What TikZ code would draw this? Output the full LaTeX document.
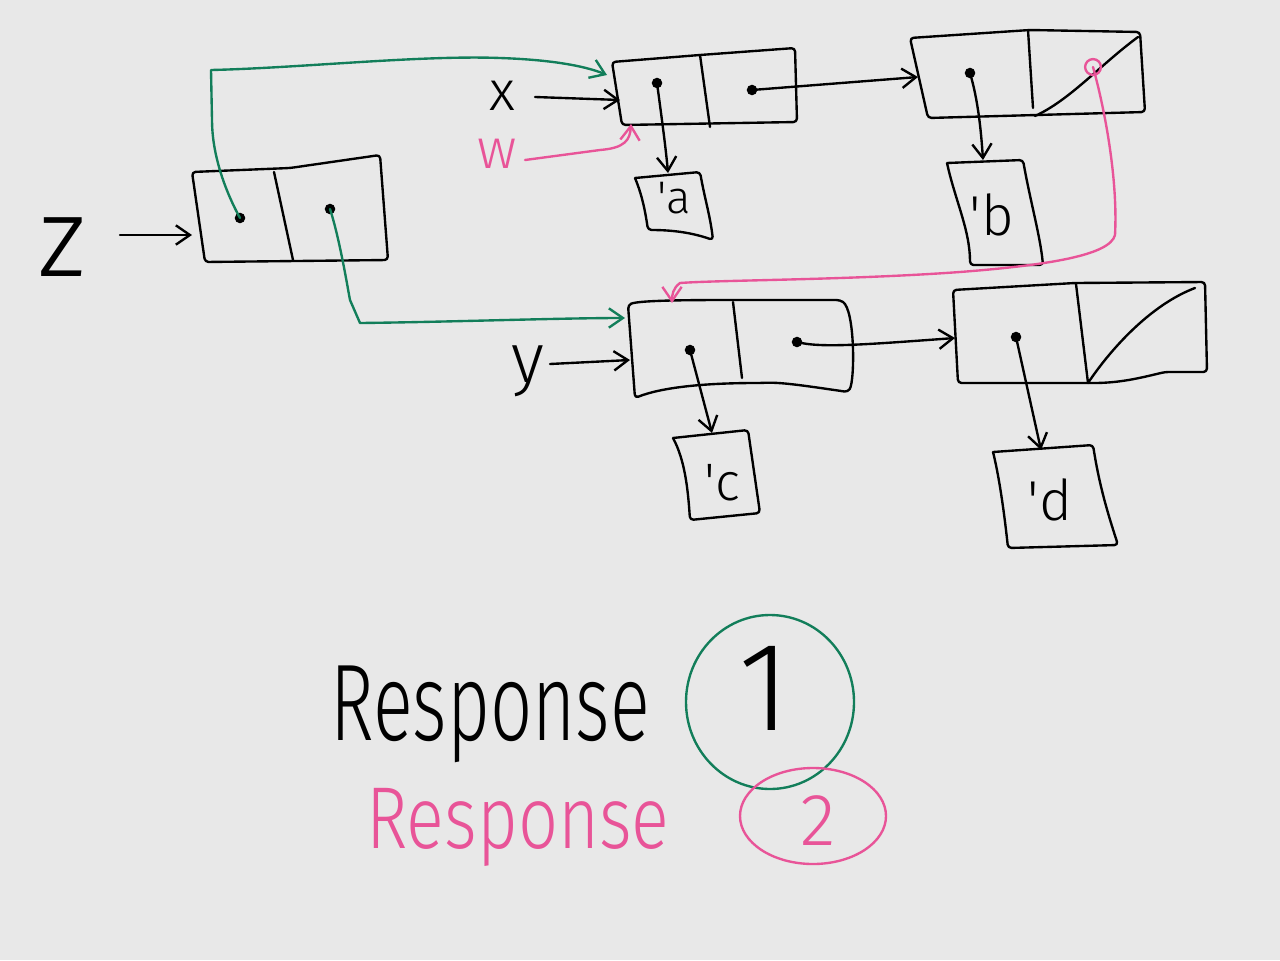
\documentclass[tikz,border=0pt]{standalone}
\usepackage{fontspec}
\IfFontExistsTF{Fira Sans Light}{\setmainfont{Fira Sans Light}}{\setmainfont{Fira Sans}}
\usetikzlibrary{arrows.meta}
\definecolor{bgc}{RGB}{232,232,232}
\definecolor{grn}{RGB}{18,126,90}
\definecolor{pnk}{RGB}{232,84,152}
\tikzset{
  ink/.style={line width=1.35pt, line cap=round, line join=round},
  boxline/.style={ink, draw=black, rounded corners=2pt},
  arr/.style={ink, -{Straight Barb[length=8pt,width=11pt]}},
  garr/.style={arr, draw=grn},
  parr/.style={arr, draw=pnk},
  lbl/.style={inner sep=0pt, anchor=base},
}
\newcommand{\fs}[1]{\fontsize{#1}{#1}\selectfont}
\begin{document}
\begin{tikzpicture}[x=0.02cm, y=-0.02cm]
\useasboundingbox[fill=bgc] (0,0) rectangle (1280,960);

% ---------- labels ----------
\node[lbl, font=\fs{64}] (zlab) at (62,276) {z};
\node[lbl, font=\fs{32}] (xlab) at (502,110) {x};
\node[lbl, font=\fs{32}, text=pnk] (wlab) at (497,168) {w};
\node[lbl, font=\fs{40}] (ylab) at (528,382) {y};

% ---------- cons cells ----------
% Z pair
\draw[boxline] (192,172) -- (290,168) -- (380,155) -- (388,260) -- (205,262) -- cycle;
\draw[boxline] (274,172) -- (293,260);
\coordinate (zcar) at (240,218);
\coordinate (zcdr) at (330,209);
\coordinate (zin) at (192,235);
\fill (zcar) circle[radius=3pt];
\fill (zcdr) circle[radius=3pt];

% X pair
\draw[boxline] (612,62) -- (700,55) -- (795,48) -- (797,122) -- (622,125) -- cycle;
\draw[boxline] (700,55) -- (710,127);
\coordinate (xcar) at (657,83);
\coordinate (xcdr) at (752,90);
\coordinate (xin) at (620,100);
\coordinate (xtop) at (607,75);
\coordinate (xbot) at (631,124);
\fill (xcar) circle[radius=3pt];
\fill (xcdr) circle[radius=3pt];

% B pair (cdr nil)
\draw[boxline] (910,38) -- (1030,30) -- (1140,32) -- (1145,112) -- (928,118) -- cycle;
\draw[boxline] (1028,30) -- (1033,108);
\draw[boxline] (1035,116) .. controls (1070,100) and (1100,65) .. (1138,37);
\coordinate (bcar) at (970,73);
\coordinate (bin) at (918,77);
\coordinate (bcdr) at (1093,67);
\fill (bcar) circle[radius=3pt];
\draw[ink, draw=pnk] (bcdr) circle[radius=4.5pt];

% Y pair
\draw[boxline] (628,305) .. controls (640,300) and (700,300) .. (740,300) -- (840,300) .. controls (855,310) and (855,380) .. (848,392) .. controls (800,385) and (780,382) .. (760,383) .. controls (700,383) and (660,388) .. (635,398) -- cycle;
\draw[boxline] (733,302) -- (742,378);
\coordinate (ycar) at (690,350);
\coordinate (ycdr) at (797,342);
\coordinate (yin) at (630,360);
\coordinate (ytop) at (625,318);
\coordinate (ytopp) at (672,303);
\fill (ycar) circle[radius=3pt];
\fill (ycdr) circle[radius=3pt];

% D pair (cdr nil)
\draw[boxline] (953,290) -- (1075,283) -- (1205,282) -- (1207,372) -- (1165,372) .. controls (1140,378) and (1120,383) .. (1090,383) -- (958,383) -- cycle;
\draw[boxline] (1076,284) -- (1088,383);
\draw[boxline] (1088,383) .. controls (1110,350) and (1150,305) .. (1195,288);
\coordinate (dcar) at (1016,337);
\coordinate (din) at (955,338);
\fill (dcar) circle[radius=3pt];

% ---------- atoms ----------
\draw[boxline] (635,178) -- (700,172) .. controls (705,200) and (710,215) .. (713,240) .. controls (690,232) and (670,230) .. (648,230) .. controls (645,210) and (642,195) .. (635,178);
\node[lbl, font=\fs{26}] (alab) at (674,213) {\textquotesingle a};
\coordinate (ain) at (668,173);

\draw[boxline] (947,163) -- (1023,160) .. controls (1030,200) and (1040,235) .. (1043,265) -- (970,265) .. controls (970,230) and (955,200) .. (947,163);
\node[lbl, font=\fs{32}] (blab) at (992,235) {\textquotesingle b};
\coordinate (bin2) at (983,160);

\draw[boxline] (673,438) -- (748,430) -- (760,513) -- (690,520) .. controls (688,490) and (685,460) .. (673,438);
\node[lbl, font=\fs{30}] (clab) at (722,500) {\textquotesingle c};
\coordinate (cin) at (712,433);

\draw[boxline] (993,452) -- (1093,445) .. controls (1100,490) and (1110,520) .. (1118,545) -- (1008,548) .. controls (1005,520) and (1000,480) .. (993,452);
\node[lbl, font=\fs{32}] (dlab) at (1050,520) {\textquotesingle d};
\coordinate (din2) at (1041,450);

% ---------- connectors ----------
\coordinate (zs) at (120,235);
\draw[arr] (zs) -- (zin);
\draw[arr] (535,97) coordinate (xs) -- (xin);
\draw[arr] (550,364) coordinate (ys) -- (yin);
\draw[parr] (525,160) coordinate (ws) -- (600,150) .. controls (625,148) and (630,140) .. (xbot);

\draw[arr] (xcar) .. controls (662,120) and (666,150) .. (ain);
\draw[arr] (xcdr) -- (bin);
\draw[arr] (bcar) .. controls (978,100) and (981,130) .. (bin2);
\draw[arr] (ycar) -- (cin);
\draw[arr] (ycdr) .. controls (820,348) and (860,345) .. (din);
\draw[arr] (dcar) -- (din2);

\draw[garr] (zcar) .. controls (222,185) and (212,150) .. (212,120) -- (211,70)
  .. controls (300,68) and (420,55) .. (500,58) .. controls (560,60) and (590,68) .. (xtop);
\draw[garr] (zcdr) .. controls (340,240) and (348,290) .. (350,300) -- (360,323)
  .. controls (450,322) and (560,318) .. (ytop);
\draw[parr] (bcdr) .. controls (1105,110) and (1118,180) .. (1115,235)
  .. controls (1110,255) and (1050,265) .. (960,272)
  .. controls (850,280) and (720,280) .. (680,283) .. controls (673,288) and (672,295) .. (ytopp);

% ---------- responses ----------
\node[lbl, font=\fs{62}] (r1) at (490,740) {\scalebox{0.68}[1]{Response}};
\node[lbl, font=\fs{72}] (one) at (765,730) {1};
\draw[ink, draw=grn] (770,702) ellipse[x radius=84, y radius=87];
\node[lbl, font=\fs{50}, text=pnk] (r2) at (518,848) {\scalebox{0.8}[1]{Response}};
\node[lbl, font=\fs{42}, text=pnk] (two) at (818,845) {2};
\draw[ink, draw=pnk] (813,816) ellipse[x radius=73, y radius=48];
\end{tikzpicture}
\end{document}
